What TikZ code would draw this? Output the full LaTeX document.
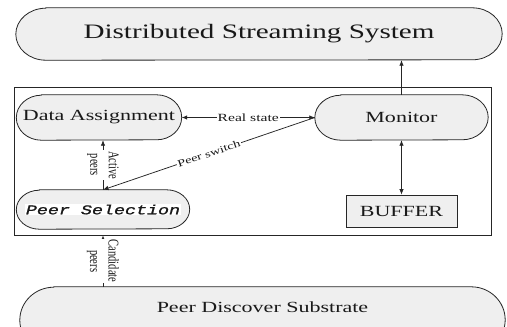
\documentclass[tikz,border=0pt]{standalone}
\usepackage{fontspec}
\setmainfont{Liberation Serif}
\newfontfamily\widefont{Liberation Serif}[FakeStretch=1.42]
\newfontfamily\widemono{Liberation Mono}[FakeStretch=1.38,FakeBold=1.2]
\usetikzlibrary{arrows.meta,backgrounds,calc}
\definecolor{boxfill}{HTML}{EFEFEF}
\definecolor{linec}{HTML}{262626}
\tikzset{
  base/.style={inner sep=0pt, text=black!90},
  stad/.style={base, font=\fontsize{15.5}{18}\widefont},
  stadpath/.style={fill=boxfill, draw=linec, line width=0.8pt},
  arr/.style={draw=linec, line width=0.75pt, -{Latex[length=5.5pt,width=4.5pt]}},
  darr/.style={draw=linec, line width=0.75pt, {Latex[length=5.5pt,width=4.5pt]}-{Latex[length=5.5pt,width=4.5pt]}},
  lbl/.style={fill=white, inner sep=1pt, text=black!90, font=\fontsize{11}{13}\widefont},
  vlbl/.style={fill=white, inner sep=1pt, text=black!90, align=center, rotate=-90, yscale=1.42, font=\fontsize{10.5}{13}\selectfont},
}
\newcommand\stadiumof[3]{\path[stadpath] ([xshift=#2]#1.north west) -- ([xshift=-#2]#1.north east) arc[start angle=90,end angle=-90,x radius=#2,y radius=#3] -- ([xshift=#2]#1.south west) arc[start angle=270,end angle=90,x radius=#2,y radius=#3] -- cycle;}
\begin{document}
\begin{tikzpicture}[x=1pt,y=1pt]
\useasboundingbox (0,0) rectangle (507,-327);
% nodes
\node[stad, minimum width=486, minimum height=52, font=\fontsize{20.5}{24}\widefont] (dss) at (259,-34) {Distributed Streaming System};
\node[base, draw=linec, line width=0.8pt, minimum width=477, minimum height=148] (frame) at (252.5,-161) {};
\node[stad, minimum width=165, minimum height=45] (da) at (99,-117.5) {Data Assignment};
\node[stad, minimum width=173, minimum height=45] (mon) at (401.5,-117.5) {Monitor};
\node[base, minimum width=173, minimum height=39, font=\fontsize{13.3}{15}\widemono\itshape] (ps) at (103,-209.5) {\setlength\fboxsep{1pt}\colorbox{white}{Peer Selection}};
\node[stad, draw=linec, fill=boxfill, line width=0.8pt, minimum width=111, minimum height=32] (buf) at (401.5,-211) {BUFFER};
\node[base, minimum width=485, minimum height=66] (pds) at (262.5,-320) {};
\node[stad] (pdst) at (262.5,-307.5) {Peer Discover Substrate};
% background shapes
\begin{scope}[on background layer]
  \clip (0,0) rectangle (507,-327);
  \fill[white] (0,0) rectangle (507,-327);
  \stadiumof{dss}{30}{26}
  \stadiumof{da}{25}{22.5}
  \stadiumof{mon}{26}{22.5}
  \stadiumof{ps}{23}{19.5}
  \stadiumof{pds}{34}{33}
\end{scope}
% connectors
\draw[arr] (mon.north) -- (mon.north |- dss.south);
\draw[darr] (mon.south) -- (buf.north);
\draw[darr] (da.east) -- node[lbl] {Real state} (mon.west);
\draw[arr] (mon.west) -- node[lbl, sloped, font=\fontsize{10}{12}\widefont] {Peer switch} (ps.north);
\draw[arr] (ps.north) -- node[vlbl] {Active\\peers} (ps.north |- da.south);
\draw[arr] (pds.north -| ps.south) -- node[vlbl] {Candidate\\peers} (ps.south |- frame.south);
\end{tikzpicture}
\end{document}
